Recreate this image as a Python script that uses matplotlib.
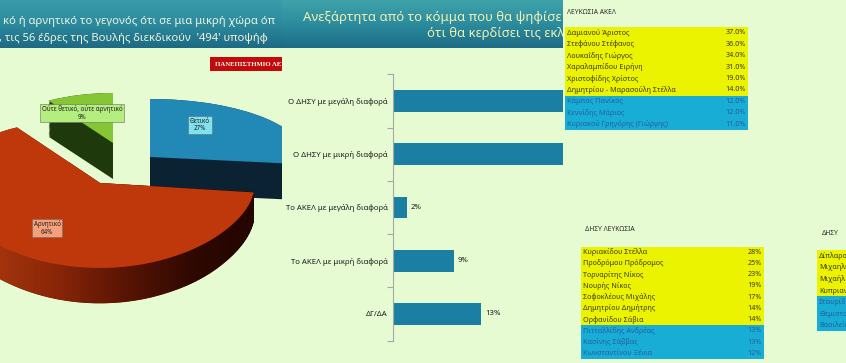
import numpy as np
import matplotlib
matplotlib.use('Agg')
import matplotlib.pyplot as plt
from matplotlib.path import Path
from matplotlib.patches import Rectangle
from matplotlib.colors import LinearSegmentedColormap

plt.rcParams['font.family'] = ['Noto Sans', 'DejaVu Sans']

# ---------------- data ----------------
pie_labels = ['Θετικό', 'Αρνητικό', 'Ούτε θετικό, ούτε αρνητικό']
pie_values = [27, 64, 9]

bar_categories = ['Ο ΔΗΣΥ με μεγάλη διαφορά', 'Ο ΔΗΣΥ με μικρή διαφορά',
                  'Το ΑΚΕΛ με μεγάλη διαφορά', 'Το ΑΚΕΛ με μικρή διαφορά', 'ΔΓ/ΔΑ']
bar_values = [42, 34, 2, 9, 13]

akel_names = ['Δαμιανού Άριστος', 'Στεφάνου Στέφανος', 'Λουκαΐδης Γιώργος',
              'Χαραλαμπίδου Ειρήνη', 'Χριστοφίδης Χρίστος', 'Δημητρίου - Μαρασούλη Στέλλα',
              'Κάμπας Πανίκος', 'Κεννίδης Μάριος', 'Κυριακού Γρηγόρης (Γιώργης)']
akel_values = [37.0, 36.0, 34.0, 31.0, 19.0, 14.0, 12.0, 12.0, 11.0]
akel_n_yellow = 6

disy_names = ['Κυριακίδου Στέλλα', 'Προδρόμου Πρόδρομος', 'Τορναρίτης Νίκος',
              'Νουρής Νίκος', 'Σοφοκλέους Μιχάλης', 'Δημητρίου Δημήτρης',
              'Ορφανίδου Σάβια', 'Πιτταλλίδης Ανδρέας', 'Κασίνης Σάββας',
              'Κωνσταντίνου Ξένια']
disy_values = [28, 25, 23, 19, 17, 14, 14, 13, 13, 12]
disy_n_yellow = 7

disy2_names = ['Δίπλαρος', 'Μιχαηλίδης', 'Μιχαήλ', 'Κυπριανού',
               'Σταυρίδης', 'Θεμιστοκλέους', 'Βασιλείου']
disy2_n_yellow = 4

# ---------------- style ----------------
W, H = 846, 363
BG = '#E6FBD2'
YEL = '#EBF300'
CYAN = '#17ADD5'
TXT_Y = '#3A3A14'
TXT_C = '#2A5CA0'

fig = plt.figure(figsize=(W / 100, H / 100), dpi=100)
fig.patch.set_facecolor(BG)


def px_axes(x0, y0, x1, y1):
    return fig.add_axes([x0 / W, 1 - y1 / H, (x1 - x0) / W, (y1 - y0) / H])


def panel(x0, x1, cols):
    ax = px_axes(x0, 0, x1, H)
    ax.set_facecolor(BG)
    grad = np.linspace(0, 1, 64).reshape(-1, 1)
    cmap = LinearSegmentedColormap.from_list('banner', cols)
    ax.imshow(grad, extent=(x0, x1, 48, 0), cmap=cmap, aspect='auto', zorder=1)
    ax.set_xlim(x0, x1)
    ax.set_ylim(H, 0)
    ax.set_xticks([]); ax.set_yticks([])
    for s in ax.spines.values():
        s.set_visible(False)
    return ax


# ---------------- left panel (pie) ----------------
p1 = panel(0, 282, ['#3A9CAA', '#2C8A9E', '#1D6A84'])
p1.text(3, 21.5, 'κό ή αρνητικό το γεγονός ότι σε μια μικρή χώρα όπ',
        fontsize=8.1, fontweight='semibold', color='#EEF3DC', va='center', clip_on=True, zorder=2)
p1.text(-1, 39, ', τις 56 έδρες της Βουλής διεκδικούν  \'494\' υποψήφ',
        fontsize=8.1, fontweight='semibold', color='#EEF3DC', va='center', clip_on=True, zorder=2)
p1.add_patch(Rectangle((210, 57), 90, 14, facecolor='#C20A0A', edgecolor='none', zorder=2))
p1.text(215, 64, 'ΠΑΝΕΠΙΣΤΗΜΙΟ ΛΕΥ', family=['Liberation Serif', 'DejaVu Serif'],
        fontsize=4.9, fontweight='bold', color='white', va='center', clip_on=True, zorder=3)

# each slice gets its own axes; perspective emulated by per-slice radii and,
# for the front slice, a 'function' y-scale (back compressed, front expanded)
# order: [Θετικό, Αρνητικό, Ούτε]
apex_px = [(150, 157), (100, 183), (113, 143)]
rx_px = [155, 155, 120]
ry_px = [58, 74, 50]
persp_k = [0.0, 0.138, 0.0]
thick_u = [36 / 58, 0.35, 36 / 50]
top_cols = ['#2288B5', '#BF380C', '#86C634']
side_cols = ['#0B2232', '#6A1A05', '#1E3A0C']

for s in [2, 0, 1]:
    ax = px_axes(0, 50, 282, 363)
    ax.set_facecolor('none')
    ax_px, ay_px = apex_px[s]
    rx, ry, kk = rx_px[s], ry_px[s], persp_k[s]
    side_paths = []
    for t in np.linspace(-thick_u[s], 0, 32):
        wedges, _ = ax.pie(pie_values, startangle=90, counterclock=False,
                           center=(0, t), colors=side_cols, radius=1,
                           wedgeprops=dict(linewidth=0))
        for k, w in enumerate(wedges):
            if k != s:
                w.remove()
            else:
                side_paths.append(w.get_path())
    if s == 1:
        comp = Path.make_compound_path(*side_paths)
        gcm = LinearSegmentedColormap.from_list(
            'rside', ['#A8360E', '#8A2608', '#5A1404', '#2E0801', '#220500'])
        gx = np.linspace(-0.75, 1.05, 91)
        gy = np.array([-1.6, 0.3])
        qm = ax.pcolormesh(gx, gy, np.linspace(0, 1, 90).reshape(1, -1), cmap=gcm,
                           shading='flat', linewidth=0, antialiased=False)
        qm.set_clip_path(comp, ax.transData)
    wedges, _ = ax.pie(pie_values, startangle=90, counterclock=False,
                       center=(0, 0), colors=top_cols, radius=1,
                       wedgeprops=dict(linewidth=0))
    for k, w in enumerate(wedges):
        if k != s:
            w.remove()
    ax.set_aspect('auto')
    if kk > 0:
        grid = np.linspace(-6, 6, 6001)
        fgrid = grid * np.exp(-kk * grid)

        def fwd(y, kk=kk):
            return y * np.exp(-kk * np.asarray(y))

        def inv(v, grid=grid, fgrid=fgrid):
            return np.interp(v, fgrid, grid)

        ax.set_yscale('function', functions=(fwd, inv))
        ax.set_ylim(inv((ay_px - 363) / ry), inv((ay_px - 50) / ry))
    else:
        ax.set_ylim((ay_px - 363) / ry, (ay_px - 50) / ry)
    ax.set_xlim(-ax_px / rx, (282 - ax_px) / rx)
    ax.axis('off')

axl = px_axes(0, 50, 282, 363)
axl.set_facecolor('none')
axl.set_xlim(0, 282)
axl.set_ylim(363, 50)
axl.axis('off')
lab_pos = [(200, 125), (47, 228), (82, 113)]
lab_fc = ['#7FE2EE', '#F4A07C', '#B4EE7E']
for lab, v, pos, fc in zip(pie_labels, pie_values, lab_pos, lab_fc):
    axl.text(pos[0], pos[1], f'{lab}\n{v}%', ha='center', va='center', fontsize=4.5,
             fontweight='bold', color='#1E1E1E', linespacing=1.1,
             bbox=dict(boxstyle='square,pad=0.25', fc=fc, ec='#6A6A6A', lw=0.4))

# ---------------- middle panel (bars) ----------------
p2 = panel(282, 563, ['#3EA2AA', '#2C8C9E', '#1D6C85'])
p2.text(303, 17, 'Ανεξάρτητα από το κόμμα που θα ψηφίσε',
        fontsize=9.4, fontweight='bold', color='#F0F0B2', va='center', clip_on=True, zorder=2)
p2.text(427, 33.5, 'ότι θα κερδίσει τις εκλ',
        fontsize=9.4, fontweight='bold', color='#F0F0B2', va='center', clip_on=True, zorder=2)

axb = px_axes(393, 74.4, 563, 340.6)
axb.set_facecolor('none')
yy = np.arange(len(bar_categories))
axb.barh(yy, bar_values, height=0.41, color='#1B7FA3')
axb.set_ylim(len(bar_categories) - 0.5, -0.5)
axb.set_xlim(0, 25)
for s in ['top', 'right', 'bottom']:
    axb.spines[s].set_visible(False)
axb.spines['left'].set_color('#A8A8A8')
axb.spines['left'].set_linewidth(0.8)
axb.set_xticks([])
axb.set_yticks(yy)
axb.set_yticklabels(bar_categories, fontsize=5.6, fontweight='bold', color='#1A1A1A')
axb.tick_params(axis='y', which='major', length=0, pad=3.6)
axb.set_yticks(np.arange(len(bar_categories) + 1) - 0.5, minor=True)
axb.tick_params(axis='y', which='minor', length=4, color='#A8A8A8', width=0.8)
for i, v in enumerate(bar_values):
    axb.text(v + 0.55, i, f'{v}%', va='center', ha='left', fontsize=5.6,
             fontweight='bold', color='#1A1A1A', clip_on=True)

# ---------------- right panel (tables) ----------------
p3 = px_axes(563, 0, W, H)
p3.set_facecolor(BG)
p3.set_xticks([]); p3.set_yticks([])
for s in p3.spines.values():
    s.set_visible(False)


def table(x0, y0, rowh, names, values, n_yellow, header, hx, hy, fmt, width=183):
    n = len(names)
    ax = px_axes(x0, y0, x0 + width, y0 + rowh * n)
    cols = [YEL] * n_yellow + [CYAN] * (n - n_yellow)
    ax.barh(np.arange(n) + 0.5, [1] * n, height=1, left=0, color=cols, linewidth=0)
    ax.set_xlim(0, 1)
    ax.set_ylim(n, 0)
    ax.axis('off')
    for i, nm in enumerate(names):
        tc = TXT_Y if i < n_yellow else TXT_C
        ax.text(0.012, i + 0.5, nm, va='center', ha='left', fontsize=5.2, color=tc)
        if values is not None:
            ax.text(0.99, i + 0.5, fmt(values[i]), va='center', ha='right', fontsize=5.2, color=tc)
    ax.text(hx, hy, header, va='center', ha='left', fontsize=4.8, color='#2A2A2A', clip_on=False)
    return ax


table(565, 27, 11.45, akel_names, akel_values, akel_n_yellow, 'ΛΕΥΚΩΣΙΑ ΑΚΕΛ',
      0.011, -1.25, lambda v: f'{v:.1f}%')
table(581, 246.5, 11.25, disy_names, disy_values, disy_n_yellow, 'ΔΗΣΥ ΛΕΥΚΩΣΙΑ',
      0.022, -1.47, lambda v: f'{v}%')
table(817, 250, 11.6, disy2_names, None, disy2_n_yellow, 'ΔΗΣΥ',
      0.027, -1.38, None)

fig.savefig('out.png', dpi=100, facecolor=BG)
